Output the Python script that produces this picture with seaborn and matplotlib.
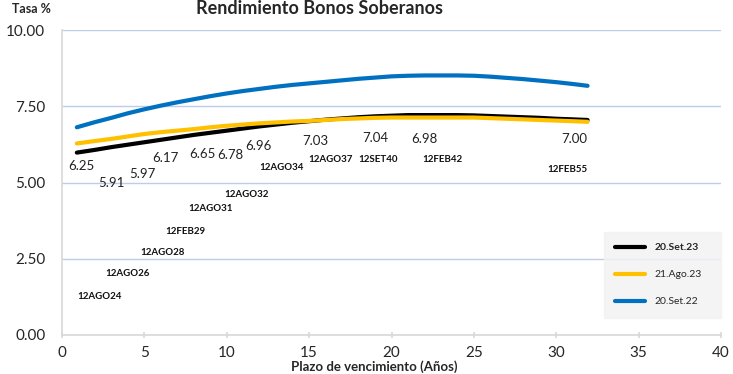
import numpy as np
import pandas as pd
import matplotlib
matplotlib.use("Agg")
import matplotlib.pyplot as plt
import seaborn as sns

# --- data ---
plazo = [0.9, 2, 3, 4, 5, 6, 7, 8, 9, 10, 11, 12, 13, 14, 15, 16,
         17, 18, 19, 20, 21, 22, 23, 24, 25, 26, 27, 28, 29, 30, 31, 31.9]

set23 = [5.98, 6.07, 6.16, 6.24, 6.32, 6.40, 6.48, 6.56, 6.63, 6.70, 6.77, 6.84,
         6.90, 6.96, 7.01, 7.06, 7.10, 7.14, 7.17, 7.19, 7.21, 7.21, 7.21, 7.21,
         7.20, 7.18, 7.16, 7.14, 7.12, 7.09, 7.07, 7.05]
ago23 = [6.28, 6.36, 6.43, 6.51, 6.59, 6.65, 6.70, 6.75, 6.81, 6.86, 6.90, 6.94,
         6.97, 7.00, 7.02, 7.05, 7.08, 7.10, 7.12, 7.13, 7.13, 7.13, 7.13, 7.13,
         7.13, 7.11, 7.09, 7.07, 7.05, 7.03, 7.01, 6.99]
set22 = [6.81, 6.98, 7.12, 7.27, 7.40, 7.52, 7.63, 7.73, 7.83, 7.92, 8.00, 8.07,
         8.14, 8.20, 8.25, 8.30, 8.35, 8.40, 8.44, 8.48, 8.50, 8.51, 8.51, 8.51,
         8.50, 8.47, 8.43, 8.39, 8.34, 8.29, 8.23, 8.17]

series_names = ["20.Set.23", "21.Ago.23", "20.Set.22"]
series_colors = ["black", "#ffc000", "#0070c0"]

# bond data labels (yield and name)
bond_names = ["12AGO24", "12AGO26", "12AGO28", "12FEB29", "12AGO31", "12AGO32",
              "12AGO34", "12AGO37", "12SET40", "12FEB42", "12FEB55"]
bond_yields = ["6.25", "5.91", "5.97", "6.17", "6.65", "6.78", "6.96",
               "7.03", "7.04", "6.98", "7.00"]

# where the labels sit on the chart (layout, not data)
yield_pos = [(1.2, 5.54), (3.0, 4.98), (4.9, 5.28), (6.3, 5.80), (8.5, 5.93),
             (10.2, 5.90), (11.9, 6.20), (15.4, 6.36), (19.0, 6.46), (22.0, 6.43),
             (31.1, 6.43)]
name_pos = [(2.3, 1.25), (4.0, 2.00), (6.1, 2.72), (7.5, 3.38), (9.0, 4.16),
            (11.2, 4.62), (13.3, 5.50), (16.3, 5.77), (19.2, 5.77), (23.1, 5.74),
            (30.7, 5.44)]


def build_frame():
    frames = []
    for name, vals in zip(series_names, [set23, ago23, set22]):
        frames.append(pd.DataFrame({"plazo": plazo, "tasa": vals, "serie": name}))
    return pd.concat(frames, ignore_index=True)


def draw(df):
    sns.set_theme(style="white")
    plt.rcParams["font.family"] = ["Lato", "DejaVu Sans"]

    fig = plt.figure(figsize=(7.33, 3.74), dpi=100)
    ax = fig.add_axes([62 / 733, 1 - 335 / 374, 659 / 733, 305 / 374])

    # draw order: blue, black, yellow on top
    for name, color in [("20.Set.22", "#0070c0"), ("20.Set.23", "black"), ("21.Ago.23", "#ffc000")]:
        sns.lineplot(data=df[df["serie"] == name], x="plazo", y="tasa", color=color,
                     linewidth=3.0, ax=ax, label=name, solid_capstyle="round")

    ax.set_xlim(0, 40)
    ax.set_ylim(0, 10)
    ax.set_xticks(np.arange(0, 41, 5))
    ax.set_yticks([0, 2.5, 5, 7.5, 10])
    ax.set_yticklabels([f"{v:.2f}" for v in [0, 2.5, 5, 7.5, 10]])
    ax.set_xlabel("")
    ax.set_ylabel("")

    ax.grid(axis="y", color="#bccdec", linewidth=1)
    ax.grid(axis="x", visible=False)
    ax.set_axisbelow(True)
    for side in ["top", "right"]:
        ax.spines[side].set_visible(False)
    ax.spines["left"].set_color("#d9d9d9")
    ax.spines["bottom"].set_color("#d9d9d9")
    ax.tick_params(axis="x", labelsize=11, pad=6, length=4, direction="inout",
                   color="#d9d9d9", bottom=True)
    ax.tick_params(axis="y", labelsize=11, pad=12, length=0)

    for txt, (x, y) in zip(bond_yields, yield_pos):
        ax.text(x, y, txt, fontsize=9.5, ha="center", va="center", color="#222222")
    for txt, (x, y) in zip(bond_names, name_pos):
        ax.text(x, y, txt, fontsize=7, fontweight="bold", ha="center", va="center",
                color="#111111")

    handles, labels = ax.get_legend_handles_labels()
    order = [labels.index(n) for n in series_names]
    leg = ax.legend([handles[i] for i in order], [labels[i] for i in order],
                    loc="lower left", bbox_to_anchor=(0.822, 0.056, 0.178, 0.28),
                    mode="expand", fontsize=7.5, frameon=True, fancybox=False,
                    handlelength=2.9, labelspacing=1.7, borderaxespad=0,
                    borderpad=1.1, handletextpad=0.9)
    leg.get_frame().set_facecolor("#f2f2f2")
    leg.get_frame().set_edgecolor("#f2f2f2")
    leg.get_texts()[0].set_fontweight("bold")

    fig.text(320 / 733, 1.0, "Rendimiento Bonos Soberanos", ha="center",
             va="top", fontsize=13, fontweight="bold")
    fig.text(12 / 733, 1 - 13 / 374, "Tasa %", ha="left", va="baseline",
             fontsize=9, fontweight="bold")
    fig.text(374 / 733, 1 / 374, "Plazo de vencimiento (Años)", ha="center",
             va="bottom", fontsize=9.5, fontweight="bold")

    fig.savefig("out.png", dpi=100)


if __name__ == "__main__":
    draw(build_frame())
